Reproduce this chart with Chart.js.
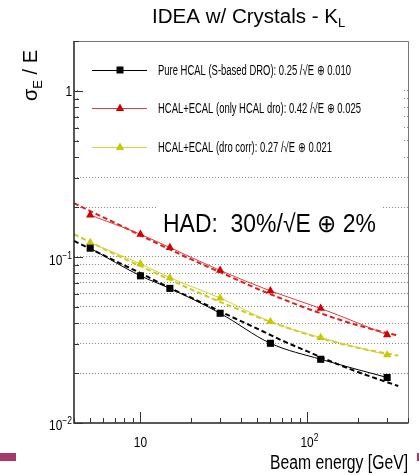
<!DOCTYPE html>
<html>
<head>
<meta charset="utf-8">
<script src="https://cdn.jsdelivr.net/npm/chart.js@4.4.1/dist/chart.umd.min.js"></script>
<style>
html, body { margin: 0; padding: 0; background: #fff; }
canvas { display: block; }
</style>
</head>
<body>
<canvas id="kl-chart" width="419" height="475"></canvas>
<script>
// beam energies of the measured points [GeV]
var energies = [5, 10, 15, 30, 60, 120, 300];
// sigma_E / E
var pureHcal = [0.113, 0.077, 0.0647, 0.0458, 0.0302, 0.0242, 0.0188];
var hcalEcal = [0.179, 0.137, 0.114, 0.0830, 0.0625, 0.049, 0.0340];
var droCorr  = [0.122, 0.091, 0.075, 0.0566, 0.0408, 0.0327, 0.0257];

// dashed fit curves
var fitEnergies = [4, 5, 7, 10, 15, 20, 30, 50, 70, 100, 150, 200, 300, 350];
var pureFit = [0.125, 0.112, 0.095, 0.080, 0.065, 0.057, 0.047, 0.037, 0.0315, 0.027, 0.0227, 0.0203, 0.0176, 0.0167];
var hcalFit = [0.211, 0.189, 0.161, 0.135, 0.111, 0.097, 0.081, 0.0644, 0.0561, 0.0489, 0.0424, 0.0388, 0.0348, 0.0336];
var droFit  = [0.137, 0.123, 0.104, 0.088, 0.073, 0.064, 0.0536, 0.0436, 0.0385, 0.0342, 0.0305, 0.0284, 0.0262, 0.0255];

var legendLabels = [
    "Pure HCAL (S-based DRO): 0.25 /\u221AE \u2295 0.010",
    "HCAL+ECAL (only HCAL dro): 0.42 /\u221AE \u2295 0.025",
    "HCAL+ECAL (dro corr): 0.27 /\u221AE \u2295 0.021"
];

// axis ticks
var yTicks = [0.01, 0.02, 0.03, 0.04, 0.05, 0.06, 0.07, 0.08, 0.09, 0.1, 0.2, 0.3, 0.4, 0.5, 0.6, 0.7, 0.8, 0.9, 1, 2];
var yMajor = [0.01, 0.1, 1];
var xTicks = [4, 5, 6, 7, 8, 9, 10, 20, 30, 40, 50, 60, 70, 80, 90, 100, 200, 300, 400];
var xMajor = [10, 100];

var BLACK = "#000000";
var RED = "#d20000";
var RED_LINE = "#e03c3c";
var YEL = "#c8c800";
var YEL_LINE = "#d2d23c";

function pts(xs, ys) {
    return xs.map(function (x, i) { return { x: x, y: ys[i] }; });
}

// draw text squeezed / stretched to a given width
function fitText(ctx, txt, x, y, width, font, align) {
    ctx.save();
    ctx.font = font;
    var w = ctx.measureText(txt).width;
    var s = width / w;
    ctx.translate(x, y);
    ctx.scale(s, 1);
    ctx.textAlign = "left";
    var x0 = align == "right" ? -w : (align == "center" ? -w / 2 : 0);
    ctx.fillText(txt, x0, 0);
    ctx.restore();
}

function powLabel(ctx, base, sup, xRight, yBase, xCenter) {
    ctx.save();
    ctx.font = "14px 'Liberation Sans'";
    var sx = 0.85;
    var wb = ctx.measureText(base).width * sx;
    ctx.font = "10px 'Liberation Sans'";
    var ws = sup ? ctx.measureText(sup).width * sx : 0;
    var left = xCenter !== undefined ? xCenter - (wb + ws) / 2 : xRight - wb - ws;
    ctx.fillStyle = "#000";
    ctx.textBaseline = "alphabetic";
    ctx.save();
    ctx.translate(left, yBase); ctx.scale(sx, 1);
    ctx.font = "14px 'Liberation Sans'";
    ctx.fillText(base, 0, 0);
    ctx.restore();
    if (sup) {
        ctx.save();
        ctx.translate(left + wb, yBase - 6); ctx.scale(sx, 1);
        ctx.font = "10px 'Liberation Sans'";
        ctx.fillText(sup, 0, 0);
        ctx.restore();
    }
    ctx.restore();
}

function marker(ctx, kind, x, y, color) {
    ctx.save();
    ctx.fillStyle = color;
    ctx.beginPath();
    if (kind == "rect") {
        ctx.rect(x - 3.5, y - 3.5, 7, 7);
    } else {
        ctx.moveTo(x, y - 4.5);
        ctx.lineTo(x + 4.2, y + 3);
        ctx.lineTo(x - 4.2, y + 3);
        ctx.closePath();
    }
    ctx.fill();
    ctx.restore();
}

var decor = {
    id: "decor",
    beforeDatasetsDraw: function (chart) {
        var ctx = chart.ctx;
        ctx.save();
        ctx.fillStyle = "#fff";
        // legend box and text box hide the grid
        ctx.fillRect(79, 42, 325, 124);
        ctx.fillRect(156, 190, 226, 58);
        ctx.restore();
    },
    afterDraw: function (chart) {
        var ctx = chart.ctx, ca = chart.chartArea;
        var xs = chart.scales.x, ys = chart.scales.y;
        ctx.save();

        // frame
        ctx.strokeStyle = "#777";
        ctx.lineWidth = 1;
        ctx.beginPath();
        ctx.moveTo(ca.left, ca.top + 0.5); ctx.lineTo(ca.right + 0.5, ca.top + 0.5);
        ctx.lineTo(ca.right + 0.5, ca.bottom);
        ctx.stroke();
        ctx.strokeStyle = "#222";
        ctx.lineWidth = 1.5;
        ctx.beginPath();
        ctx.moveTo(ca.left, ca.top); ctx.lineTo(ca.left, ca.bottom);
        ctx.lineTo(ca.right + 0.5, ca.bottom);
        ctx.stroke();

        // ticks inside the frame
        ctx.lineWidth = 1;
        ctx.strokeStyle = "#333";
        ctx.beginPath();
        yTicks.forEach(function (v) {
            var py = Math.round(ys.getPixelForValue(v)) + 0.5;
            var len = yMajor.indexOf(v) >= 0 ? 9 : 5;
            ctx.moveTo(ca.left, py); ctx.lineTo(ca.left + len, py);
        });
        xTicks.forEach(function (v) {
            var px = Math.round(xs.getPixelForValue(v)) + 0.5;
            var len = xMajor.indexOf(v) >= 0 ? 11 : 5;
            ctx.moveTo(px, ca.bottom); ctx.lineTo(px, ca.bottom - len);
        });
        ctx.stroke();

        // tick labels
        powLabel(ctx, "1", "", 72, ys.getPixelForValue(1) + 5);
        powLabel(ctx, "10", "\u22121", 72, ys.getPixelForValue(0.1) + 8);
        powLabel(ctx, "10", "\u22122", 72, ys.getPixelForValue(0.01) + 7);
        powLabel(ctx, "10", "", 0, 447, xs.getPixelForValue(10));
        powLabel(ctx, "10", "2", 0, 447, xs.getPixelForValue(100) + 2);

        ctx.fillStyle = "#000";
        ctx.textBaseline = "alphabetic";

        // title
        fitText(ctx, "IDEA w/ Crystals - K", 152, 23, 186, "20px 'Liberation Sans'", "left");
        ctx.font = "13px 'Liberation Sans'";
        ctx.fillText("L", 338, 27);

        // y title
        ctx.save();
        ctx.translate(37, 101);
        ctx.rotate(-Math.PI / 2);
        ctx.font = "20px 'Liberation Sans'";
        ctx.fillText("\u03C3", 0, 0);
        var w1 = ctx.measureText("\u03C3").width;
        ctx.font = "13px 'Liberation Sans'";
        ctx.fillText("E", w1, 5);
        var w2 = ctx.measureText("E").width;
        ctx.font = "20px 'Liberation Sans'";
        ctx.fillText(" / E", w1 + w2, 0);
        ctx.restore();

        // x title
        fitText(ctx, "Beam energy [GeV]", 408, 469, 138, "20px 'Liberation Sans'", "right");

        // resolution text
        fitText(ctx, "HAD:  30%/\u221AE \u2295 2%", 163, 232, 213, "25px 'Liberation Sans'", "left");

        // legend
        var ly = [70, 108, 147];
        var lcol = [BLACK, RED_LINE, YEL_LINE];
        var mcol = [BLACK, RED, YEL];
        var mk = ["rect", "tri", "tri"];
        var lw = [193, 203, 174];
        for (var i = 0; i < 3; i++) {
            ctx.strokeStyle = lcol[i];
            ctx.lineWidth = 1;
            ctx.beginPath();
            ctx.moveTo(92, ly[i] + 0.5); ctx.lineTo(147, ly[i] + 0.5);
            ctx.stroke();
            marker(ctx, mk[i], 120, ly[i], mcol[i]);
            ctx.fillStyle = "#000";
            fitText(ctx, legendLabels[i], 158, ly[i] + 5, lw[i], "14px 'Liberation Sans'", "left");
        }

        // slide decoration bars
        ctx.fillStyle = "#a83a68";
        ctx.fillRect(0, 453, 16, 8);
        ctx.fillRect(417, 453, 2, 8);
        ctx.restore();
    }
};

function dataSet(ys, color, lineColor, style, radius) {
    return {
        data: pts(energies, ys),
        borderColor: lineColor,
        backgroundColor: color,
        pointBackgroundColor: color,
        pointBorderColor: color,
        pointBorderWidth: 0,
        pointStyle: style,
        pointRadius: radius,
        borderWidth: 1,
        cubicInterpolationMode: "monotone",
        order: 1
    };
}

function fitSet(ys, color) {
    return {
        data: pts(fitEnergies, ys),
        borderColor: color,
        borderWidth: 2,
        borderDash: [5, 3],
        pointRadius: 0,
        cubicInterpolationMode: "monotone",
        order: 2
    };
}

var chart = new Chart(document.getElementById("kl-chart"), {
    type: "line",
    data: {
        datasets: [
            fitSet(pureFit, BLACK),
            fitSet(hcalFit, "#dc1e1e"),
            fitSet(droFit, "#cccc22"),
            dataSet(pureHcal, BLACK, BLACK, "rect", 5),
            dataSet(hcalEcal, RED, RED_LINE, "triangle", 4.8),
            dataSet(droCorr, YEL, YEL_LINE, "triangle", 4.8)
        ]
    },
    options: {
        responsive: false,
        animation: false,
        events: [],
        layout: { padding: { left: 74, right: 11, top: 41, bottom: 52 } },
        plugins: { legend: { display: false }, tooltip: { enabled: false }, title: { display: false } },
        scales: {
            x: {
                type: "logarithmic",
                min: 4, max: 400,
                ticks: { display: false },
                grid: { display: false, drawTicks: false },
                border: { display: false }
            },
            y: {
                type: "logarithmic",
                min: 0.01, max: 2,
                afterBuildTicks: function (axis) {
                    axis.ticks = yTicks.filter(function (v) { return v > 0.01 && v < 2; }).map(function (v) { return { value: v }; });
                },
                ticks: { display: false },
                grid: { color: "#888", lineWidth: 1, drawTicks: false },
                border: { display: false, dash: [1, 2] }
            }
        }
    },
    plugins: [decor]
});
</script>
</body>
</html>
